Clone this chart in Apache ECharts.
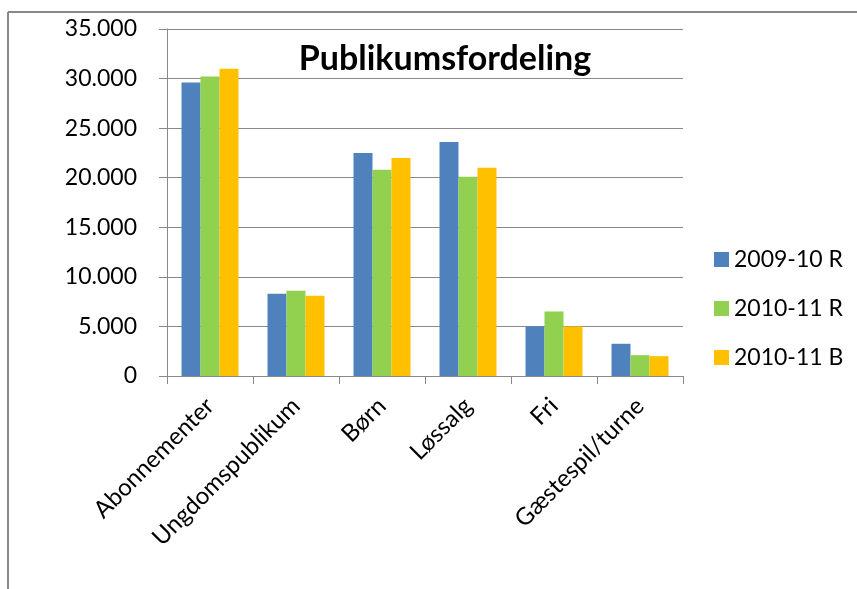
<!DOCTYPE html>
<html>
<head>
<meta charset="utf-8">
<script src="https://cdn.jsdelivr.net/npm/echarts@6/dist/echarts.min.js"></script>
<style>
html,body{margin:0;padding:0;background:#fff;}
#c{width:857px;height:589px;}
</style>
</head>
<body>
<div id="c"></div>
<script>
var categories = ['Abonnementer', 'Ungdomspublikum', 'Børn', 'Løssalg', 'Fri', 'Gæstespil/turne'];
var seriesNames = ['2009-10 R', '2010-11 R', '2010-11 B'];
var s2009R = [29600, 8300, 22500, 23600, 5000, 3250];
var s2010R = [30200, 8600, 20800, 20100, 6500, 2100];
var s2010B = [31000, 8100, 22000, 21000, 5000, 2000];
var colors = ['#4F81BD', '#92D050', '#FFC000'];
var FONT = 'Lato, "Open Sans", sans-serif';

function fmt(v) {
  return String(v).replace(/\B(?=(\d{3})+(?!\d))/g, '.');
}

var chart = echarts.init(document.getElementById('c'), null, {renderer: 'canvas'});
var data = [s2009R, s2010R, s2010B];
chart.setOption({
  animation: false,
  backgroundColor: '#fff',
  title: {
    text: 'Publikumsfordeling',
    left: 440,
    top: 37,
    textAlign: 'center',
    textStyle: {fontFamily: FONT, fontWeight: 'bold', fontSize: 34, color: '#000'}
  },
  legend: {
    orient: 'vertical',
    left: 709,
    top: 243,
    itemWidth: 15,
    itemHeight: 15,
    itemGap: 26,
    icon: 'rect',
    textStyle: {fontFamily: FONT, fontSize: 23, color: '#000'},
    data: seriesNames
  },
  graphic: [
    {type: 'line', shape: {x1: 8, y1: 12, x2: 900, y2: 12}, style: {stroke: '#888', lineWidth: 2}},
    {type: 'line', shape: {x1: 8, y1: 12, x2: 8, y2: 600}, style: {stroke: '#888', lineWidth: 2}}
  ],
  grid: {left: 167, right: 174, top: 29, bottom: 213, containLabel: false},
  xAxis: {
    type: 'category',
    data: categories,
    axisLine: {lineStyle: {color: '#888', width: 1}},
    axisTick: {show: true, length: 8, lineStyle: {color: '#888'}},
    axisLabel: {rotate: 45, margin: 26, interval: 0, fontFamily: FONT, fontSize: 24, color: '#000'}
  },
  yAxis: {
    type: 'value',
    min: 0,
    max: 35000,
    interval: 5000,
    axisLine: {show: true, lineStyle: {color: '#888', width: 1}},
    axisTick: {show: true, length: 8, lineStyle: {color: '#888'}},
    splitLine: {lineStyle: {color: '#888', width: 1}},
    axisLabel: {margin: 30, fontFamily: FONT, fontSize: 23, color: '#000', formatter: fmt}
  },
  series: seriesNames.map(function (n, i) {
    return {
      name: n,
      type: 'bar',
      data: data[i],
      barWidth: 19,
      barGap: '0%',
      itemStyle: {color: colors[i]}
    };
  })
});
</script>
</body>
</html>
